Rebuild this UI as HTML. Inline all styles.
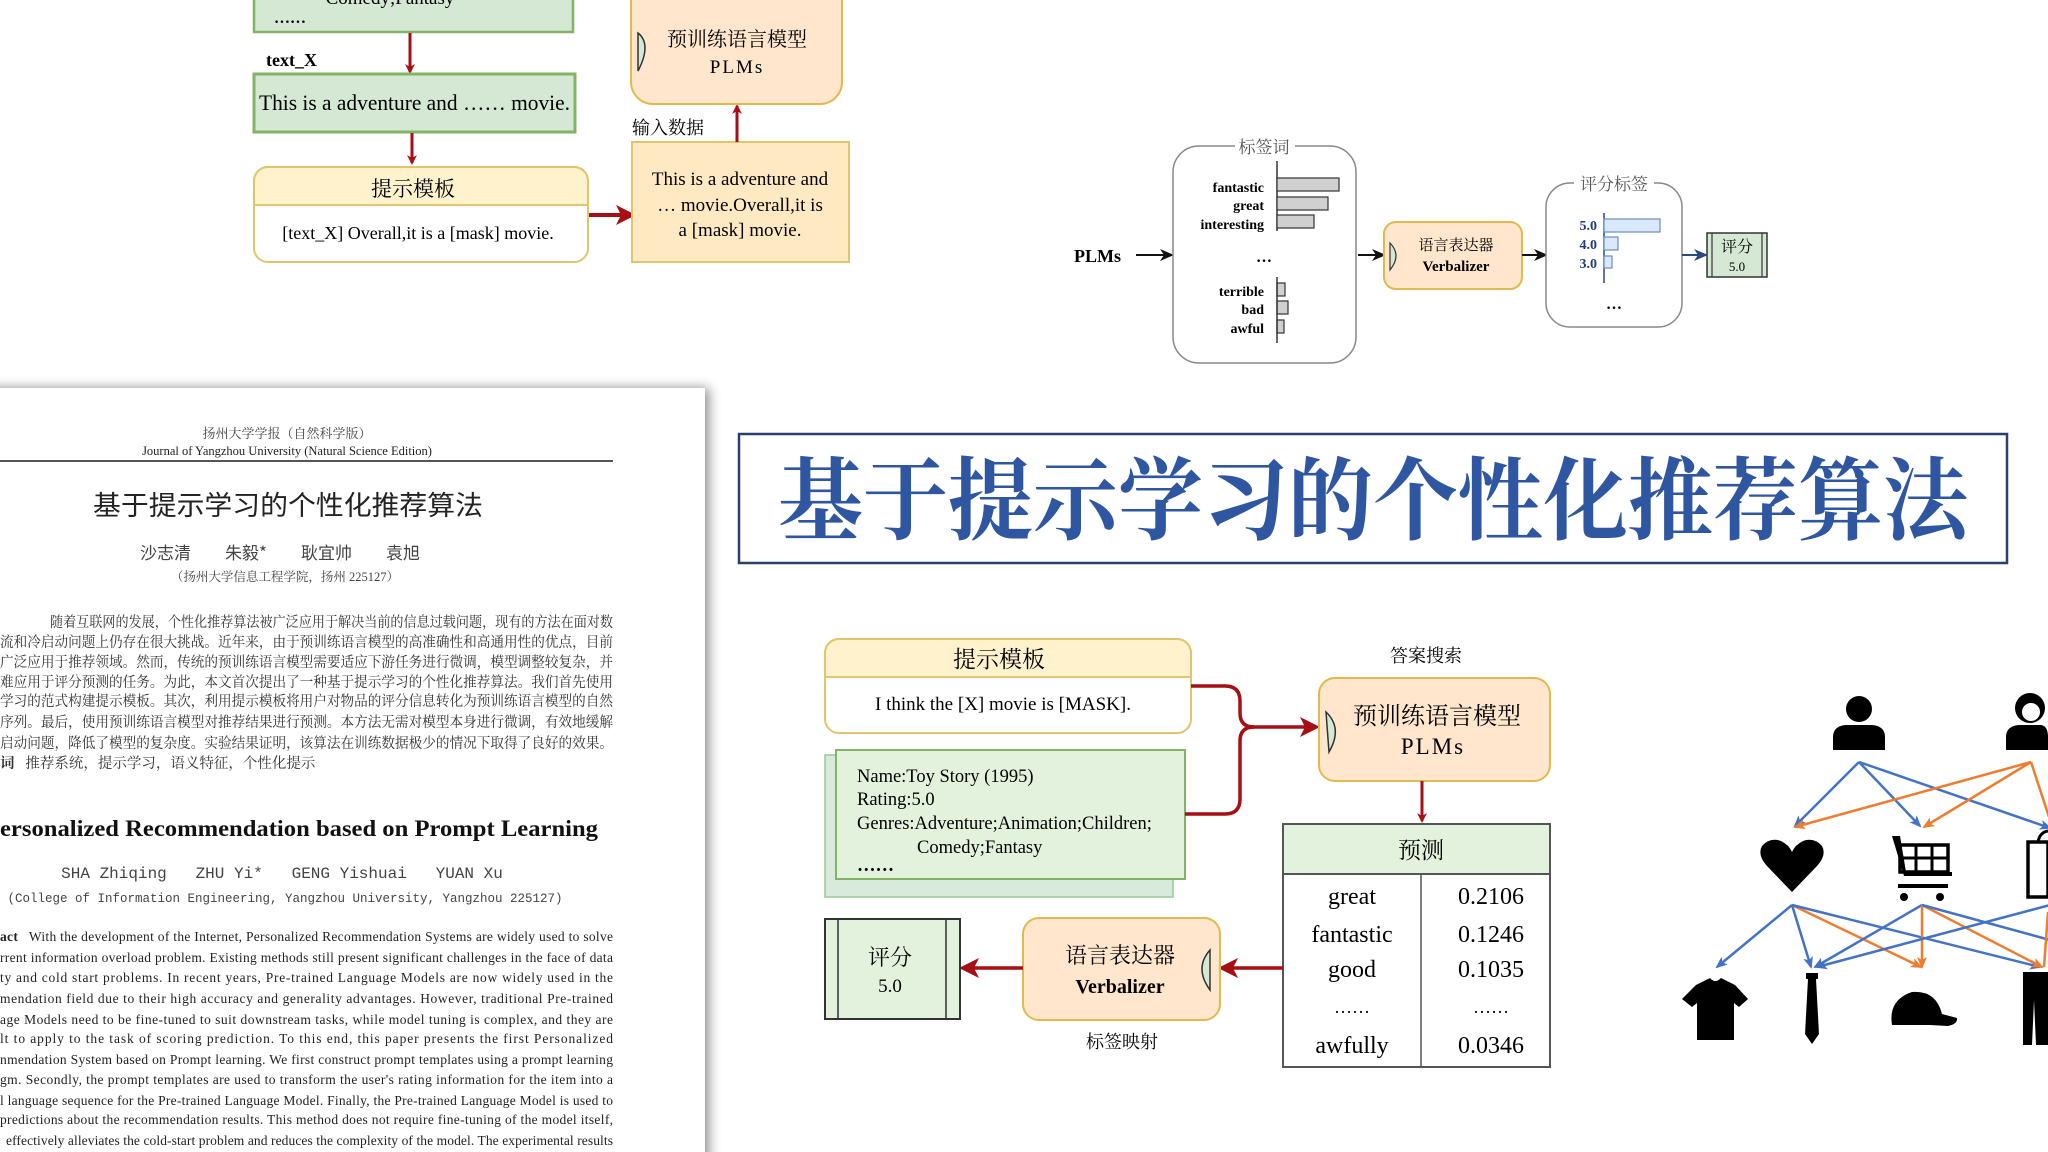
<!DOCTYPE html>
<html><head><meta charset="utf-8"><style>
html,body{margin:0;padding:0;background:#fff;}
svg{display:block}
.s{font-family:"Liberation Serif","Noto Serif CJK SC",serif;}
</style></head><body>
<svg width="2048" height="1152" viewBox="0 0 2048 1152" xmlns="http://www.w3.org/2000/svg">
<defs>
<marker id="ar" markerWidth="10" markerHeight="10" refX="8" refY="5" orient="auto" markerUnits="userSpaceOnUse" viewBox="0 0 10 10"><path d="M0,0 L10,5 L0,10 L3,5z" fill="#a50f15"/></marker>
<marker id="arL" markerWidth="20" markerHeight="20" refX="16" refY="10" orient="auto" markerUnits="userSpaceOnUse" viewBox="0 0 20 20"><path d="M0,0 L20,10 L0,20 L5,10z" fill="#a50f15"/></marker>
<marker id="ak" markerWidth="14" markerHeight="14" refX="12" refY="7" orient="auto" markerUnits="userSpaceOnUse" viewBox="0 0 14 14"><path d="M0,1 L14,7 L0,13 L4,7z" fill="#111"/></marker>
<marker id="ab" markerWidth="14" markerHeight="14" refX="12" refY="7" orient="auto" markerUnits="userSpaceOnUse" viewBox="0 0 14 14"><path d="M0,1 L14,7 L0,13 L4,7z" fill="#2a4a7f"/></marker>
<marker id="mb" markerWidth="12" markerHeight="12" refX="10" refY="6" orient="auto" markerUnits="userSpaceOnUse" viewBox="0 0 12 12"><path d="M0,1 L12,6 L0,11 L3,6z" fill="#4472c4"/></marker>
<marker id="mo" markerWidth="12" markerHeight="12" refX="10" refY="6" orient="auto" markerUnits="userSpaceOnUse" viewBox="0 0 12 12"><path d="M0,1 L12,6 L0,11 L3,6z" fill="#ed7d31"/></marker>
<filter id="sh" x="-5%" y="-5%" width="115%" height="115%"><feGaussianBlur in="SourceAlpha" stdDeviation="6"/><feOffset dx="4" dy="0"/><feComponentTransfer><feFuncA type="linear" slope="0.45"/></feComponentTransfer><feMerge><feMergeNode/><feMergeNode in="SourceGraphic"/></feMerge></filter>
</defs>

<!-- ============ TOP LEFT ============ -->
<rect x="254" y="-10" width="319" height="42" fill="#d5e8d4" stroke="#82b366" stroke-width="2.5"/>
<text x="390" y="4" class="s" font-size="19" text-anchor="middle">Comedy;Fantasy</text>
<text x="274" y="23" class="s" font-size="16" font-weight="bold">……</text>
<line x1="410" y1="33" x2="410" y2="72" stroke="#a50f15" stroke-width="3" marker-end="url(#ar)"/>
<text x="266" y="66" class="s" font-size="18" font-weight="bold">text_X</text>
<rect x="254" y="74" width="321" height="58" fill="#d5e8d4" stroke="#82b366" stroke-width="3"/>
<text x="259" y="110" class="s" font-size="22" textLength="311" lengthAdjust="spacingAndGlyphs">This is a adventure and …… movie.</text>
<line x1="412" y1="133" x2="412" y2="163" stroke="#a50f15" stroke-width="3" marker-end="url(#ar)"/>
<rect x="254" y="167" width="334" height="95" rx="14" fill="#fff" stroke="#e2c46c" stroke-width="2"/>
<path d="M254,205 V181 a14,14 0 0 1 14,-14 H574 a14,14 0 0 1 14,14 V205 Z" fill="#fff2cc" stroke="#e2c46c" stroke-width="2"/>
<text x="413" y="196" class="s" font-size="21" text-anchor="middle">提示模板</text>
<text x="418" y="239" class="s" font-size="18" text-anchor="middle">[text_X] Overall,it is a [mask] movie.</text>
<line x1="589" y1="215" x2="632" y2="215" stroke="#a50f15" stroke-width="4" marker-end="url(#arL)"/>
<rect x="632" y="142" width="217" height="120" fill="#ffe9c2" stroke="#e2c46c" stroke-width="2"/>
<text x="740" y="185" class="s" font-size="19" text-anchor="middle">This is a adventure and</text>
<text x="740" y="211" class="s" font-size="19" text-anchor="middle">… movie.Overall,it is</text>
<text x="740" y="236" class="s" font-size="19" text-anchor="middle">a [mask] movie.</text>
<line x1="737" y1="142" x2="737" y2="106" stroke="#a50f15" stroke-width="3" marker-end="url(#ar)"/>
<text x="632" y="134" class="s" font-size="18">输入数据</text>
<rect x="631" y="-20" width="211" height="124" rx="22" fill="#ffe6cc" stroke="#e2b94c" stroke-width="2"/>
<path d="M638,33 Q652,44 638,71 Z" fill="#d5e8d4" stroke="#333" stroke-width="1.5"/>
<text x="737" y="46" class="s" font-size="20" text-anchor="middle">预训练语言模型</text>
<text x="737" y="73" class="s" font-size="19" text-anchor="middle" letter-spacing="2">PLMs</text>

<!-- ============ TOP RIGHT ============ -->
<text x="1074" y="262" class="s" font-size="18" font-weight="bold">PLMs</text>
<line x1="1136" y1="255" x2="1172" y2="255" stroke="#111" stroke-width="2" marker-end="url(#ak)"/>
<rect x="1173" y="146" width="183" height="217" rx="26" fill="#fff" stroke="#888" stroke-width="1.5"/>
<rect x="1235" y="138" width="60" height="18" fill="#fff"/>
<text x="1264" y="153" class="s" font-size="17" fill="#555" text-anchor="middle">标签词</text>
<line x1="1277" y1="161" x2="1277" y2="231" stroke="#333" stroke-width="1.5"/>
<g fill="#d0d0d0" stroke="#333" stroke-width="1.2">
<rect x="1277" y="178" width="62" height="13"/><rect x="1277" y="197" width="51" height="13"/><rect x="1277" y="215" width="37" height="13"/>
<rect x="1277" y="283" width="8" height="13"/><rect x="1277" y="301" width="11" height="13"/><rect x="1277" y="320" width="7" height="13"/>
</g>
<line x1="1277" y1="277" x2="1277" y2="343" stroke="#333" stroke-width="1.5"/>
<g class="s" font-size="14" font-weight="bold" text-anchor="end">
<text x="1264" y="192">fantastic</text><text x="1264" y="210">great</text><text x="1264" y="229">interesting</text>
<text x="1264" y="296">terrible</text><text x="1264" y="314">bad</text><text x="1264" y="333">awful</text>
</g>
<text x="1264" y="262" class="s" font-size="16" font-weight="bold" text-anchor="middle">…</text>
<line x1="1358" y1="255" x2="1384" y2="255" stroke="#111" stroke-width="2" marker-end="url(#ak)"/>
<rect x="1384" y="222" width="138" height="67" rx="12" fill="#ffe6cc" stroke="#e2b94c" stroke-width="2"/>
<path d="M1390,243 Q1402,255 1390,270 Z" fill="#d5e8d4" stroke="#333" stroke-width="1.2"/>
<text x="1456" y="250" class="s" font-size="15" text-anchor="middle">语言表达器</text>
<text x="1456" y="271" class="s" font-size="15" font-weight="bold" text-anchor="middle">Verbalizer</text>
<line x1="1522" y1="255" x2="1546" y2="255" stroke="#111" stroke-width="2" marker-end="url(#ak)"/>
<rect x="1546" y="183" width="136" height="144" rx="24" fill="#fff" stroke="#888" stroke-width="1.5"/>
<rect x="1574" y="175" width="80" height="18" fill="#fff"/>
<text x="1614" y="190" class="s" font-size="17" fill="#555" text-anchor="middle">评分标签</text>
<line x1="1604" y1="213" x2="1604" y2="283" stroke="#2a4a7f" stroke-width="1.5"/>
<g fill="#dae8fc" stroke="#6c8ebf" stroke-width="1.2">
<rect x="1604" y="219" width="56" height="13"/><rect x="1604" y="237" width="14" height="13"/><rect x="1604" y="256" width="8" height="12"/>
</g>
<g class="s" font-size="14" font-weight="bold" fill="#1f3d7a" text-anchor="end">
<text x="1597" y="230">5.0</text><text x="1597" y="249">4.0</text><text x="1597" y="268">3.0</text>
</g>
<text x="1614" y="309" class="s" font-size="16" font-weight="bold" text-anchor="middle">…</text>
<line x1="1682" y1="255" x2="1706" y2="255" stroke="#2a4a7f" stroke-width="2" marker-end="url(#ab)"/>
<rect x="1707" y="233" width="60" height="44" fill="#d5e8d4" stroke="#333" stroke-width="1.5"/>
<line x1="1712" y1="233" x2="1712" y2="277" stroke="#333" stroke-width="1.2"/>
<line x1="1762" y1="233" x2="1762" y2="277" stroke="#333" stroke-width="1.2"/>
<text x="1737" y="252" class="s" font-size="16" text-anchor="middle">评分</text>
<text x="1737" y="271" class="s" font-size="13" text-anchor="middle">5.0</text>

<!-- ============ PAPER ============ -->
<rect x="-20" y="388" width="725" height="800" fill="#fff" filter="url(#sh)"/>
<g class="s" fill="#222">
<text x="287" y="438" font-size="13" text-anchor="middle" fill="#444">扬州大学学报（自然科学版）</text>
<text x="287" y="455" font-size="12.5" text-anchor="middle">Journal of Yangzhou University (Natural Science Edition)</text>
<line x1="0" y1="461" x2="613" y2="461" stroke="#555" stroke-width="2"/>
<text x="288" y="515" font-size="27" text-anchor="middle" textLength="390" lengthAdjust="spacingAndGlyphs" font-family="Liberation Sans, Noto Sans CJK SC, sans-serif">基于提示学习的个性化推荐算法</text>
<text x="280" y="559" font-size="17" text-anchor="middle" fill="#444" font-family="Noto Sans CJK SC, sans-serif" xml:space="preserve">沙志清　　朱毅*　　耿宜帅　　袁旭</text>
<text x="285" y="581" font-size="12.5" text-anchor="middle" fill="#444">（扬州大学信息工程学院，扬州 225127）</text>
<g font-size="14.5" fill="#333">
<text x="50" y="627" textLength="563" lengthAdjust="spacingAndGlyphs">随着互联网的发展，个性化推荐算法被广泛应用于解决当前的信息过载问题，现有的方法在面对数</text>
<text x="0" y="647" textLength="613" lengthAdjust="spacingAndGlyphs">流和冷启动问题上仍存在很大挑战。近年来，由于预训练语言模型的高准确性和高通用性的优点，目前</text>
<text x="0" y="667" textLength="613" lengthAdjust="spacingAndGlyphs">广泛应用于推荐领域。然而，传统的预训练语言模型需要适应下游任务进行微调，模型调整较复杂，并</text>
<text x="0" y="687" textLength="613" lengthAdjust="spacingAndGlyphs">难应用于评分预测的任务。为此，本文首次提出了一种基于提示学习的个性化推荐算法。我们首先使用</text>
<text x="0" y="706" textLength="613" lengthAdjust="spacingAndGlyphs">学习的范式构建提示模板。其次，利用提示模板将用户对物品的评分信息转化为预训练语言模型的自然</text>
<text x="0" y="727" textLength="613" lengthAdjust="spacingAndGlyphs">序列。最后，使用预训练语言模型对推荐结果进行预测。本方法无需对模型本身进行微调，有效地缓解</text>
<text x="0" y="748" textLength="613" lengthAdjust="spacingAndGlyphs">启动问题，降低了模型的复杂度。实验结果证明，该算法在训练数据极少的情况下取得了良好的效果。</text>
<text x="0" y="768" xml:space="preserve"><tspan font-weight="bold">词</tspan>   推荐系统，提示学习，语义特征，个性化提示</text>
</g>
<text x="0" y="836" font-size="23.5" font-weight="bold" fill="#111" textLength="598" lengthAdjust="spacingAndGlyphs">ersonalized Recommendation based on Prompt Learning</text>
<text x="282" y="878" font-size="16" text-anchor="middle" fill="#444" font-family="Liberation Mono, monospace" xml:space="preserve">SHA Zhiqing   ZHU Yi*   GENG Yishuai   YUAN Xu</text>
<text x="285" y="902" font-size="12.5" text-anchor="middle" fill="#444" font-family="Liberation Mono, monospace">(College of Information Engineering, Yangzhou University, Yangzhou 225127)</text>
<g font-size="13.5" fill="#222">
<text x="0" y="941" textLength="613" lengthAdjust="spacing" xml:space="preserve"><tspan font-weight="bold">act</tspan>   With the development of the Internet, Personalized Recommendation Systems are widely used to solve</text>
<text x="0" y="962" textLength="613" lengthAdjust="spacing">rrent information overload problem. Existing methods still present significant challenges in the face of data</text>
<text x="0" y="982" textLength="613" lengthAdjust="spacing">ty and cold start problems. In recent years, Pre-trained Language Models are now widely used in the</text>
<text x="0" y="1003" textLength="613" lengthAdjust="spacing">mendation field due to their high accuracy and generality advantages. However, traditional Pre-trained</text>
<text x="0" y="1024" textLength="613" lengthAdjust="spacing">age Models need to be fine-tuned to suit downstream tasks, while model tuning is complex, and they are</text>
<text x="0" y="1043" textLength="613" lengthAdjust="spacing">lt to apply to the task of scoring prediction. To this end, this paper presents the first Personalized</text>
<text x="0" y="1064" textLength="613" lengthAdjust="spacing">nmendation System based on Prompt learning. We first construct prompt templates using a prompt learning</text>
<text x="0" y="1084" textLength="613" lengthAdjust="spacing">gm. Secondly, the prompt templates are used to transform the user's rating information for the item into a</text>
<text x="0" y="1105" textLength="613" lengthAdjust="spacing">l language sequence for the Pre-trained Language Model. Finally, the Pre-trained Language Model is used to</text>
<text x="0" y="1124" textLength="613" lengthAdjust="spacing">predictions about the recommendation results. This method does not require fine-tuning of the model itself,</text>
<text x="6" y="1145" textLength="607" lengthAdjust="spacing">effectively alleviates the cold-start problem and reduces the complexity of the model. The experimental results</text>
</g>
</g>

<!-- ============ TITLE BANNER ============ -->
<rect x="739" y="434" width="1268" height="129" fill="#fff" stroke="#2a3f6b" stroke-width="2.5"/>
<text x="778" y="532" font-size="90" font-weight="bold" fill="#2f56a0" textLength="1190" lengthAdjust="spacingAndGlyphs" font-family="Noto Serif CJK SC, serif">基于提示学习的个性化推荐算法</text>

<!-- ============ BOTTOM MIDDLE ============ -->
<rect x="825" y="639" width="366" height="94" rx="14" fill="#fff" stroke="#e2c46c" stroke-width="2"/>
<path d="M825,677 V653 a14,14 0 0 1 14,-14 H1177 a14,14 0 0 1 14,14 V677 Z" fill="#fff2cc" stroke="#e2c46c" stroke-width="2"/>
<text x="999" y="667" class="s" font-size="23" text-anchor="middle">提示模板</text>
<text x="1003" y="710" class="s" font-size="19" text-anchor="middle">I think the [X] movie is [MASK].</text>
<rect x="825" y="755" width="348" height="142" fill="#d7eadb" stroke="#9cc79a" stroke-width="1.5"/>
<rect x="836" y="750" width="349" height="129" fill="#e2f2dc" stroke="#82b366" stroke-width="2"/>
<g class="s" font-size="18.5">
<text x="857" y="782">Name:Toy Story (1995)</text>
<text x="857" y="805">Rating:5.0</text>
<text x="857" y="829">Genres:Adventure;Animation;Children;</text>
<text x="917" y="853">Comedy;Fantasy</text>
<text x="857" y="871" font-weight="bold">……</text>
</g>
<path d="M1191,686 H1225 Q1240,686 1240,701 V713 Q1240,727 1254,727 H1316" fill="none" stroke="#a50f15" stroke-width="3.5" marker-end="url(#arL)"/>
<path d="M1185,814 H1225 Q1240,814 1240,799 V741 Q1240,727 1254,727" fill="none" stroke="#a50f15" stroke-width="3.5"/>
<text x="1426" y="662" class="s" font-size="18" text-anchor="middle">答案搜索</text>
<rect x="1319" y="678" width="231" height="103" rx="16" fill="#ffe6cc" stroke="#e2b94c" stroke-width="2"/>
<path d="M1326,712 Q1343,728 1329,752 Z" fill="#d5e8d4" stroke="#333" stroke-width="1.5"/>
<text x="1437" y="724" class="s" font-size="24" text-anchor="middle">预训练语言模型</text>
<text x="1433" y="754" class="s" font-size="23" text-anchor="middle" letter-spacing="2">PLMs</text>
<line x1="1422" y1="781" x2="1422" y2="821" stroke="#a50f15" stroke-width="3" marker-end="url(#ar)"/>
<rect x="1283" y="824" width="267" height="243" fill="#fff" stroke="#555" stroke-width="2"/>
<rect x="1283" y="824" width="267" height="50" fill="#e2f2dc" stroke="#555" stroke-width="2"/>
<line x1="1421" y1="874" x2="1421" y2="1067" stroke="#555" stroke-width="1.5"/>
<text x="1421" y="858" class="s" font-size="23" text-anchor="middle">预测</text>
<g class="s" font-size="24" text-anchor="middle">
<text x="1352" y="904">great</text><text x="1491" y="904">0.2106</text>
<text x="1352" y="942">fantastic</text><text x="1491" y="942">0.1246</text>
<text x="1352" y="977">good</text><text x="1491" y="977">0.1035</text>
<text x="1352" y="1013" font-size="18">……</text><text x="1491" y="1013" font-size="18">……</text>
<text x="1352" y="1053">awfully</text><text x="1491" y="1053">0.0346</text>
</g>
<line x1="1283" y1="968" x2="1222" y2="968" stroke="#a50f15" stroke-width="3.5" marker-end="url(#arL)"/>
<rect x="1023" y="918" width="197" height="102" rx="16" fill="#ffe6cc" stroke="#e2b94c" stroke-width="2"/>
<path d="M1210,950 Q1194,968 1210,990 Z" fill="#d5e8d4" stroke="#333" stroke-width="1.5"/>
<text x="1120" y="963" class="s" font-size="22" text-anchor="middle">语言表达器</text>
<text x="1120" y="993" class="s" font-size="20" font-weight="bold" text-anchor="middle">Verbalizer</text>
<line x1="1023" y1="968" x2="963" y2="968" stroke="#a50f15" stroke-width="3.5" marker-end="url(#arL)"/>
<rect x="825" y="919" width="135" height="100" fill="#e2f2dc" stroke="#333" stroke-width="2"/>
<line x1="838" y1="919" x2="838" y2="1019" stroke="#333" stroke-width="1.5"/>
<line x1="946" y1="919" x2="946" y2="1019" stroke="#333" stroke-width="1.5"/>
<text x="890" y="965" class="s" font-size="22" text-anchor="middle">评分</text>
<text x="890" y="992" class="s" font-size="19" text-anchor="middle">5.0</text>
<text x="1122" y="1048" class="s" font-size="18" text-anchor="middle">标签映射</text>

<!-- ============ NETWORK ICONS ============ -->
<g stroke-width="2.5" fill="none">
<line x1="1859" y1="762" x2="1795" y2="826" stroke="#4472c4" marker-end="url(#mb)"/>
<line x1="1859" y1="762" x2="1920" y2="826" stroke="#4472c4" marker-end="url(#mb)"/>
<line x1="1859" y1="762" x2="2050" y2="828" stroke="#4472c4" marker-end="url(#mb)"/>
<line x1="2031" y1="762" x2="1795" y2="827" stroke="#ed7d31" marker-end="url(#mo)"/>
<line x1="2031" y1="762" x2="1924" y2="827" stroke="#ed7d31" marker-end="url(#mo)"/>
<line x1="2031" y1="762" x2="2050" y2="820" stroke="#ed7d31"/>
<line x1="1792" y1="905" x2="1717" y2="967" stroke="#4472c4" marker-end="url(#mb)"/>
<line x1="1792" y1="905" x2="1811" y2="967" stroke="#4472c4" marker-end="url(#mb)"/>
<line x1="1792" y1="905" x2="1921" y2="967" stroke="#ed7d31" marker-end="url(#mo)"/>
<line x1="1792" y1="905" x2="2040" y2="967" stroke="#4472c4" marker-end="url(#mb)"/>
<line x1="1922" y1="905" x2="1815" y2="967" stroke="#4472c4" marker-end="url(#mb)"/>
<line x1="1922" y1="905" x2="1922" y2="967" stroke="#ed7d31" marker-end="url(#mo)"/>
<line x1="1922" y1="905" x2="2042" y2="967" stroke="#ed7d31" marker-end="url(#mo)"/>
<line x1="1922" y1="905" x2="2050" y2="940" stroke="#4472c4"/>
<line x1="2050" y1="905" x2="1817" y2="967" stroke="#4472c4" marker-end="url(#mb)"/>
<line x1="2048" y1="912" x2="2044" y2="967" stroke="#ed7d31"/>
</g>
<g fill="#000">
<circle cx="1859" cy="709" r="13"/>
<path d="M1833,750 V737 Q1833,726 1846,725 H1872 Q1885,726 1885,737 V750Z"/>
<circle cx="2030" cy="708" r="15"/>
<path d="M2006,750 V737 Q2006,726 2019,725 H2041 Q2048,726 2048,737 V750Z"/>
<circle cx="2031" cy="712" r="9" fill="#fff"/>
<path d="M1792,892 L1767,866 Q1757,855 1762,846 Q1770,837 1781,841 Q1789,845 1792,852 Q1795,845 1803,841 Q1814,837 1822,846 Q1827,855 1817,866Z"/>
<path d="M1892,836 h8 l6,36 h46 v4 h-48z"/>
<rect x="1900" y="845" width="48" height="27" fill="none" stroke="#000" stroke-width="3.5"/>
<line x1="1916" y1="845" x2="1916" y2="872" stroke="#000" stroke-width="3"/>
<line x1="1932" y1="845" x2="1932" y2="872" stroke="#000" stroke-width="3"/>
<line x1="1900" y1="858" x2="1948" y2="858" stroke="#000" stroke-width="3"/>
<rect x="1898" y="884" width="50" height="4"/>
<circle cx="1904" cy="897" r="4"/><circle cx="1940" cy="897" r="4"/>
<path d="M2028,842 V897 H2048 V842Z" fill="none" stroke="#000" stroke-width="3.5"/>
<path d="M2038,842 Q2040,832 2048,831" fill="none" stroke="#000" stroke-width="3"/>
<path d="M1696,985 L1710,978 Q1715,984 1721,978 L1735,985 L1748,999 L1739,1007 L1734,1003 V1040 H1697 V1003 L1692,1007 L1682,999Z"/>
<path d="M1806,973 h12 v6 h-2 l3,55 l-7,10 l-7,-10 l3,-55 h-2z"/>
<path d="M1892,1025 Q1888,1000 1912,992 Q1936,990 1942,1014 L1957,1018 Q1958,1024 1948,1026 L1930,1025 Z"/>
<path d="M2023,972 H2048 V1045 H2036 L2034,1000 L2032,1045 H2023Z"/>
</g>
</svg>
</body></html>
